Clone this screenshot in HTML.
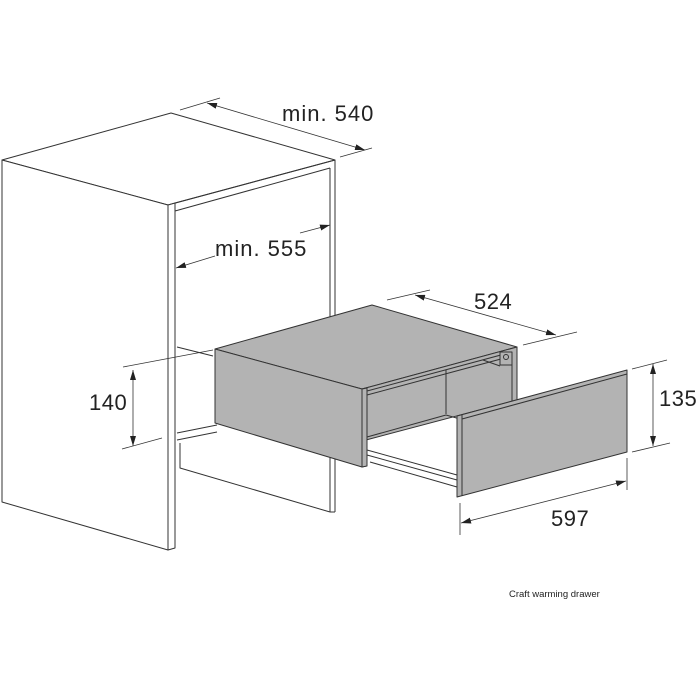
<!DOCTYPE html>
<html><head><style>body{margin:0;background:#fff}svg{display:block}text{font-family:"Liberation Sans",sans-serif;fill:#222}</style></head>
<body>
<svg width="700" height="700" viewBox="0 0 700 700" xmlns="http://www.w3.org/2000/svg">
<defs>
<marker id="a" viewBox="0 0 10 6" refX="10" refY="3" markerWidth="10" markerHeight="6" orient="auto-start-reverse" markerUnits="userSpaceOnUse"><path d="M0,0 L10,3 L0,6 Z" fill="#222"/></marker>
</defs>
<g fill="none" stroke="#333" stroke-width="1" stroke-linejoin="round">
<polygon points="2,160 171,113 335,160 168,205" fill="#fff"/>
<polygon points="2,160 168,205 168,550 2,502" fill="#fff"/>
<polygon points="168,205 175,203 175,548 168,550" fill="#fff"/>
<line x1="175" y1="203" x2="335" y2="160"/>
<line x1="175" y1="211" x2="330" y2="168"/>
<line x1="330" y1="168" x2="330" y2="512"/>
<line x1="335" y1="160" x2="335" y2="512"/>
<line x1="330" y1="512" x2="335" y2="512"/>
<line x1="177" y1="347" x2="213" y2="356"/>
<line x1="177" y1="433" x2="217" y2="425"/>
<line x1="177" y1="440" x2="217" y2="432"/>
<polyline points="180,443 180,468 330,512"/>
<polygon points="215,349 372,305 517,347 362,389" fill="#b3b3b3"/>
<polygon points="215,349 362,389 362,467 215,423" fill="#b3b3b3"/>
<polygon points="362,389 517,347 517,400 366,440 366,466 362,467" fill="#b3b3b3"/>
<polygon points="362,389 367,388 367,466 362,467" fill="#b3b3b3"/>
<line x1="367" y1="391" x2="512" y2="352"/>
<line x1="367" y1="395" x2="512" y2="356"/>
<line x1="512" y1="352" x2="512" y2="405"/>
<line x1="446" y1="370" x2="446" y2="414"/>
<line x1="367" y1="437" x2="446" y2="415"/>
<line x1="446" y1="415" x2="460" y2="419"/>
<line x1="367" y1="450" x2="457" y2="475"/>
<line x1="367" y1="455" x2="457" y2="480"/>
<line x1="370" y1="462" x2="457" y2="487"/>
<rect x="500" y="352" width="12" height="13" fill="#b3b3b3"/>
<circle cx="506" cy="357" r="2.5"/>
<polyline points="483,360 500,366"/>
<polygon points="457,416 627,370 627,452 457,497" fill="#b3b3b3"/>
<line x1="462" y1="415" x2="462" y2="496"/>
<line x1="462" y1="419" x2="627" y2="374"/>
</g>
<g stroke="#333" stroke-width="0.8" fill="none">
<line x1="180" y1="110" x2="220" y2="98"/>
<line x1="340" y1="157" x2="372" y2="148"/>
<line x1="207" y1="103" x2="365" y2="150" marker-start="url(#a)" marker-end="url(#a)"/>
<line x1="176" y1="268" x2="215" y2="256" marker-start="url(#a)"/>
<line x1="300" y1="233" x2="330" y2="225" marker-end="url(#a)"/>
<line x1="123" y1="367" x2="213" y2="350"/>
<line x1="122" y1="449" x2="162" y2="438"/>
<line x1="133" y1="370" x2="133" y2="446" marker-start="url(#a)" marker-end="url(#a)"/>
<line x1="387" y1="300" x2="430" y2="290"/>
<line x1="523" y1="345" x2="577" y2="332"/>
<line x1="415" y1="295" x2="556" y2="335" marker-start="url(#a)" marker-end="url(#a)"/>
<line x1="632" y1="369" x2="667" y2="360"/>
<line x1="632" y1="452" x2="670" y2="443"/>
<line x1="653" y1="364" x2="653" y2="446" marker-start="url(#a)" marker-end="url(#a)"/>
<line x1="460" y1="503" x2="460" y2="535"/>
<line x1="627" y1="458" x2="627" y2="490"/>
<line x1="461" y1="523" x2="626" y2="481" marker-start="url(#a)" marker-end="url(#a)"/>
</g>
<text x="282" y="121" font-size="22" letter-spacing="1">min. 540</text>
<text x="215" y="256" font-size="22" letter-spacing="1">min. 555</text>
<text x="89" y="410" font-size="22" letter-spacing="0.5">140</text>
<text x="474" y="309" font-size="22" letter-spacing="0.5">524</text>
<text x="659" y="406" font-size="22" letter-spacing="0.5">135</text>
<text x="551" y="526" font-size="22" letter-spacing="0.5">597</text>
<text x="509" y="597" font-size="9.5">Craft warming drawer</text>
</svg>
</body></html>
